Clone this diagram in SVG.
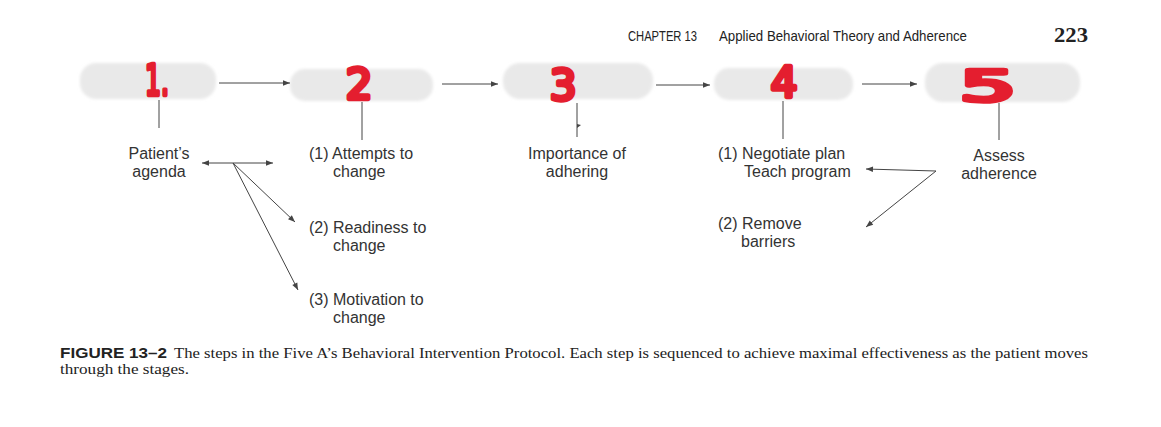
<svg xmlns="http://www.w3.org/2000/svg" width="1161" height="427" viewBox="0 0 1161 427">
<defs>
<style>
.blob{fill:#e9e9e9;filter:url(#soft)}
.num{font-family:"DejaVu Sans","Liberation Sans",sans-serif;font-weight:normal;fill:#e41e2f;stroke:#e41e2f;stroke-width:4.5;stroke-linejoin:round;stroke-linecap:round;text-anchor:middle;font-size:42px}
.lbl{font-family:"Liberation Sans",Arial,sans-serif;font-size:16px;fill:#333}
.mid{text-anchor:middle}
.ln{stroke:#444;stroke-width:1;fill:none}
.arr{stroke:#444;stroke-width:1;fill:none;marker-end:url(#ah)}
.hdr{font-family:"Liberation Sans",Arial,sans-serif;font-size:15px;fill:#222}
.cap{font-family:"Liberation Serif","Times New Roman",serif;font-size:15px;fill:#222}
</style>
<filter id="soft" x="-10%" y="-30%" width="120%" height="160%">
<feGaussianBlur stdDeviation="1.5"/>
</filter>
<marker id="ah" viewBox="0 0 10 10" refX="10" refY="5" markerWidth="9" markerHeight="7" orient="auto" markerUnits="userSpaceOnUse">
<path d="M0,1 L10,5 L0,9 Z" fill="#444"/>
</marker>
<marker id="ahs" viewBox="0 0 10 10" refX="0" refY="5" markerWidth="9" markerHeight="7" orient="auto" markerUnits="userSpaceOnUse">
<path d="M10,1 L0,5 L10,9 Z" fill="#444"/>
</marker>
</defs>
<rect width="1161" height="427" fill="#fff"/>
<g id="header">
<text class="hdr" x="628" y="41" textLength="69" lengthAdjust="spacingAndGlyphs">CHAPTER 13</text>
<text class="hdr" x="719" y="41" textLength="248" lengthAdjust="spacingAndGlyphs">Applied Behavioral Theory and Adherence</text>
<text x="1054" y="42" font-family="Liberation Serif,serif" font-weight="bold" font-size="20" fill="#222" textLength="34" lengthAdjust="spacingAndGlyphs">223</text>
</g>
<g id="node1">
<rect class="blob" x="80" y="63" width="136" height="36" rx="16"/>
<text class="num" x="157" y="95" textLength="24" lengthAdjust="spacingAndGlyphs">1.</text>
<line class="ln" x1="159" y1="100" x2="159" y2="128"/>
<text class="lbl mid" x="159" y="159">Patient’s</text>
<text class="lbl mid" x="159" y="177">agenda</text>
</g>
<g id="node2">
<rect class="blob" x="290" y="69" width="143" height="32" rx="15"/>
<text class="num" x="359" y="99" font-size="50">2</text>
<line class="ln" x1="362" y1="102" x2="362" y2="140"/>
<text class="lbl" x="309" y="159">(1) Attempts to</text>
<text class="lbl" x="333" y="177">change</text>
<text class="lbl" x="309" y="233">(2) Readiness to</text>
<text class="lbl" x="333" y="251">change</text>
<text class="lbl" x="309" y="305">(3) Motivation to</text>
<text class="lbl" x="333" y="323">change</text>
</g>
<g id="node3">
<rect class="blob" x="503" y="63" width="150" height="36" rx="17"/>
<text class="num" x="563" y="100" font-size="50">3</text>
<line class="ln" x1="577" y1="103" x2="577" y2="137"/>
<path d="M577,124 l4,1 l-4,3z" fill="#444"/>
<text class="lbl mid" x="577" y="159">Importance of</text>
<text class="lbl mid" x="577" y="177">adhering</text>
</g>
<g id="node4">
<rect class="blob" x="714" y="68" width="139" height="32" rx="15"/>
<text class="num" x="784" y="97" font-size="38">4</text>
<line class="ln" x1="783" y1="101" x2="783" y2="139"/>
<text class="lbl" x="718" y="159">(1) Negotiate plan</text>
<text class="lbl" x="744" y="177">Teach program</text>
<text class="lbl" x="718" y="229">(2) Remove</text>
<text class="lbl" x="741" y="247">barriers</text>
</g>
<g id="node5">
<rect class="blob" x="925" y="63" width="155" height="39" rx="18"/>
<text class="num" x="988" y="101" font-size="48" textLength="56" lengthAdjust="spacingAndGlyphs">5</text>
<line class="ln" x1="999" y1="103" x2="999" y2="140"/>
<text class="lbl mid" x="999" y="161">Assess</text>
<text class="lbl mid" x="999" y="179">adherence</text>
</g>
<g id="connectors">
<line class="arr" x1="219" y1="83" x2="290" y2="83"/>
<line class="arr" x1="442" y1="84" x2="498" y2="84"/>
<line class="arr" x1="656" y1="85" x2="710" y2="85"/>
<line class="arr" x1="862" y1="84" x2="917" y2="84"/>
<line class="arr" x1="202" y1="163" x2="273" y2="163" marker-start="url(#ahs)"/>
<line class="arr" x1="233" y1="163" x2="295" y2="222"/>
<line class="arr" x1="233" y1="163" x2="298" y2="290"/>
<line class="arr" x1="936" y1="171" x2="866" y2="169"/>
<line class="arr" x1="936" y1="171" x2="866" y2="227"/>
</g>
<g id="caption">
<text x="60" y="358" font-family="Liberation Sans,Arial,sans-serif" font-weight="bold" font-size="14.5" fill="#222" textLength="107" lengthAdjust="spacingAndGlyphs">FIGURE 13–2</text>
<text class="cap" x="174" y="358" textLength="914" lengthAdjust="spacingAndGlyphs">The steps in the Five A’s Behavioral Intervention Protocol. Each step is sequenced to achieve maximal effectiveness as the patient moves</text>
<text class="cap" x="60" y="374" textLength="129" lengthAdjust="spacingAndGlyphs">through the stages.</text>
</g>
</svg>
